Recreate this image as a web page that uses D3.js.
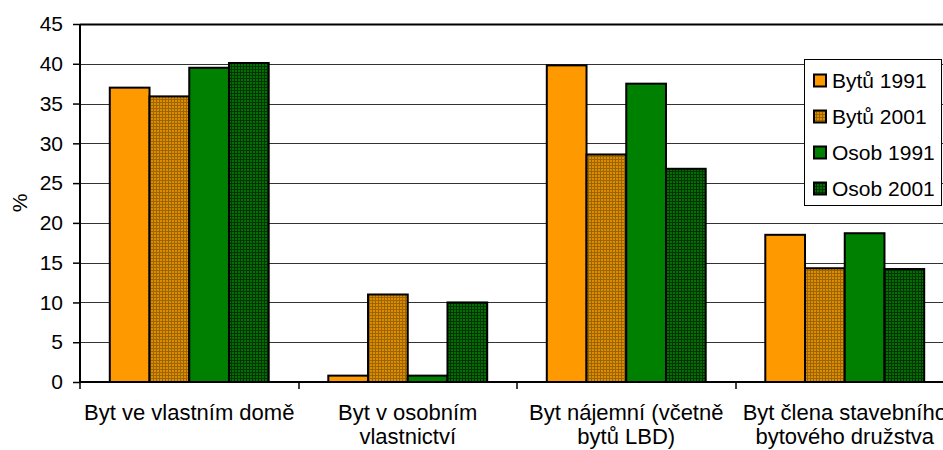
<!DOCTYPE html>
<html><head><meta charset="utf-8">
<script src="https://cdn.jsdelivr.net/npm/d3@7"></script>
<style>html,body{margin:0;padding:0;background:#fff}svg{display:block;font-family:"Liberation Sans",Arial,sans-serif}</style>
</head><body>
<svg id="c" width="943" height="450"></svg>
<script>
const categories = [
  ["Byt ve vlastním domě"],
  ["Byt v osobním", "vlastnictví"],
  ["Byt nájemní (včetně", "bytů LBD)"],
  ["Byt člena stavebního", "bytového družstva"]
];
const seriesNames = ["Bytů 1991", "Bytů 2001", "Osob 1991", "Osob 2001"];
const byty1991 = [37.0, 0.8, 39.8, 18.5];
const byty2001 = [35.9, 11.0, 28.6, 14.3];
const osob1991 = [39.5, 0.8, 37.5, 18.7];
const osob2001 = [40.1, 10.0, 26.8, 14.2];
const yTicks = [0, 5, 10, 15, 20, 25, 30, 35, 40, 45];
const yLabel = "%";

(function () {
const series = [byty1991, byty2001, osob1991, osob2001];
const fills = ["#FF9900", "url(#pBrown)", "#008000", "url(#pDark)"];
const FS = 21, FC = 22, FL = 21;

const svg = d3.select("#c");
const defs = svg.append("defs");
function pat(id, bg, fg) {
  const p = defs.append("pattern").attr("id", id).attr("patternUnits", "userSpaceOnUse")
    .attr("width", 3).attr("height", 3);
  p.append("rect").attr("width", 3).attr("height", 3).attr("fill", bg);
  p.append("rect").attr("x", 0).attr("y", 0).attr("width", 1).attr("height", 3).attr("fill", fg);
  p.append("rect").attr("x", 0).attr("y", 0).attr("width", 3).attr("height", 1).attr("fill", fg);
}
pat("pBrown", "#E08A00", "#996600");
pat("pDark", "#007000", "#003300");

const pLeft = 80, pTop = 24, pBottom = 382, catW = 218.5;
const x = d3.scaleBand().domain(d3.range(categories.length))
  .range([pLeft, pLeft + catW * categories.length]).paddingInner(0).paddingOuter(0);
const y = d3.scaleLinear().domain([0, 45]).range([pBottom, pTop]);
const xs = d3.scaleBand().domain(d3.range(series.length))
  .range([0, catW]).paddingInner(0).paddingOuter(0.75);

// gridlines
svg.append("g").selectAll("line").data(yTicks.filter(t => t > 0)).join("line")
  .attr("x1", pLeft).attr("x2", 943)
  .attr("y1", d => Math.round(y(d)) + 0.5).attr("y2", d => Math.round(y(d)) + 0.5)
  .attr("stroke", d => d === 45 ? "#000" : "#333").attr("stroke-width", d => d === 45 ? 2 : 1);

// bars
const g = svg.append("g");
series.forEach((s, si) => {
  g.selectAll(null).data(s).join("rect")
    .attr("x", (d, i) => x(i) + xs(si))
    .attr("width", xs.bandwidth())
    .attr("y", d => y(d))
    .attr("height", d => y(0) - y(d))
    .attr("fill", fills[si])
    .attr("stroke", "#000").attr("stroke-width", 2);
});

// y axis
const ya = svg.append("g").attr("transform", `translate(${pLeft},0)`)
  .call(d3.axisLeft(y).tickValues(yTicks).tickSize(7).tickPadding(10));
ya.select(".domain").attr("stroke", "#000").attr("stroke-width", 2).attr("d", `M0,${pTop}V${pBottom}`);
ya.selectAll(".tick line").attr("stroke", "#000").attr("stroke-width", 1.5);
ya.selectAll(".tick text").attr("font-size", FS).attr("fill", "#000")
  .attr("font-family", '"Liberation Sans",Arial,sans-serif');

// x axis
svg.append("line").attr("x1", pLeft).attr("x2", 943).attr("y1", pBottom).attr("y2", pBottom)
  .attr("stroke", "#000").attr("stroke-width", 2);
const xt = d3.range(categories.length + 1).map(i => pLeft + i * catW);
svg.append("g").selectAll("line").data(xt).join("line")
  .attr("x1", d => Math.round(d)).attr("x2", d => Math.round(d))
  .attr("y1", pBottom).attr("y2", pBottom + 7).attr("stroke", "#000").attr("stroke-width", 1.5);

// category labels
const lab = svg.append("g").attr("font-size", FC).attr("fill", "#000").attr("text-anchor", "middle");
categories.forEach((lines, i) => {
  const t = lab.append("text").attr("x", x(i) + catW / 2).attr("y", 420);
  lines.forEach((ln, k) => t.append("tspan").attr("x", x(i) + catW / 2).attr("dy", k === 0 ? 0 : 24).text(ln));
});

// y label
svg.append("text").attr("transform", "translate(27,203) rotate(-90)")
  .attr("text-anchor", "middle").attr("font-size", FS).text(yLabel);

// legend
const lg = svg.append("g");
lg.append("rect").attr("x", 804.5).attr("y", 59.5).attr("width", 137).attr("height", 146)
  .attr("fill", "#fff").attr("stroke", "#000").attr("stroke-width", 1);
seriesNames.forEach((n, i) => {
  const cy = 80.5 + i * 36;
  lg.append("rect").attr("x", 814).attr("y", cy - 6).attr("width", 12).attr("height", 12)
    .attr("fill", fills[i]).attr("stroke", "#000").attr("stroke-width", 2);
  lg.append("text").attr("x", 832).attr("y", cy).attr("dy", "0.35em").attr("font-size", FL).text(n);
});
})();
</script>
</body></html>
